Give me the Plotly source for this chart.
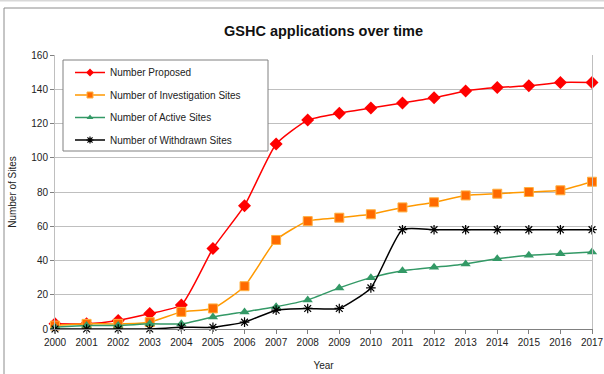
import plotly.graph_objects as go

years = list(range(2000, 2018))
proposed = [3, 3, 5, 9, 14, 47, 72, 108, 122, 126, 129, 132, 135, 139, 141, 142, 144, 144]
investigation = [2, 3, 3, 4, 10, 12, 25, 52, 63, 65, 67, 71, 74, 78, 79, 80, 81, 86]
active = [1, 2, 2, 3, 3, 7, 10, 13, 17, 24, 30, 34, 36, 38, 41, 43, 44, 45]
withdrawn = [0, 0, 0, 0, 1, 1, 4, 11, 12, 12, 24, 58, 58, 58, 58, 58, 58, 58]
y_ticks = [0, 20, 40, 60, 80, 100, 120, 140, 160]

W, H = 604, 374
L, R, T, B = 55, 12, 55, 45
PW, PH = W - L - R, H - T - B


def px_x(p):
    return (p - L) / PW


def px_y(p):
    return (H - B - p) / PH


series = [
    ("Number Proposed", proposed, "#FF0000",
     dict(symbol="diamond", size=10, color="#FF0000", line=dict(width=0))),
    ("Number of Investigation Sites", investigation, "#FF9900",
     dict(symbol="square", size=9, color="#FF6A00", line=dict(width=1, color="#FFB040"))),
    ("Number of Active Sites", active, "#339966",
     dict(symbol="triangle-up", size=9, color="#339966", line=dict(width=0))),
    ("Number of Withdrawn Sites", withdrawn, "#000000",
     dict(symbol="asterisk-open", size=8, color="#000000", line=dict(width=1.2, color="#000000"))),
]

fig = go.Figure()
for name, vals, col, mk in series:
    fig.add_trace(go.Scatter(
        x=years, y=vals, name=name, mode="lines+markers",
        line=dict(color=col, width=1.5, shape="spline", smoothing=0.5),
        marker=mk, cliponaxis=False, showlegend=False,
    ))

# legend entries with smaller symbols
for name, vals, col, mk in series:
    small = dict(mk)
    small["size"] = 6
    fig.add_trace(go.Scatter(
        x=[None], y=[None], name=name, mode="lines+markers",
        line=dict(color=col, width=1.5), marker=small,
        legendgroup=name, showlegend=True,
    ))

font = "Liberation Sans, Arial, sans-serif"

shapes = [
    # outer chart frame
    dict(type="line", xref="paper", yref="paper",
         x0=px_x(4), x1=px_x(W + 10), y0=px_y(8), y1=px_y(8),
         line=dict(color="#8C8C8C", width=1)),
    dict(type="line", xref="paper", yref="paper",
         x0=px_x(4), x1=px_x(4), y0=px_y(8), y1=px_y(H + 10),
         line=dict(color="#8C8C8C", width=1)),
    # thin band at the very top
    dict(type="line", xref="paper", yref="paper",
         x0=px_x(0), x1=px_x(W), y0=px_y(0.5), y1=px_y(0.5),
         line=dict(color="#D8D8D8", width=2)),
    # legend box
    dict(type="rect", xref="paper", yref="paper",
         x0=px_x(63), x1=px_x(268), y0=px_y(151), y1=px_y(60),
         line=dict(color="#808080", width=1), fillcolor="white", layer="above"),
]

fig.update_layout(
    width=W, height=H,
    margin=dict(l=L, r=R, t=T, b=B, autoexpand=False),
    paper_bgcolor="white", plot_bgcolor="white",
    font=dict(family=font, size=10, color="#222222"),
    title=dict(text="<b>GSHC applications over time</b>", x=(L + PW / 2) / W,
               xanchor="center", y=1 - 31 / H, yanchor="middle",
               font=dict(size=14.5, color="#111111")),
    xaxis=dict(
        range=[2000, 2017], tickvals=years, ticktext=[str(y) for y in years],
        showgrid=False, zeroline=False, automargin=False,
        showline=True, linecolor="#808080", linewidth=1,
        ticks="outside", ticklen=4, tickcolor="#808080",
        title=dict(text="Year", standoff=14, font=dict(size=10)),
        tickfont=dict(size=10),
    ),
    yaxis=dict(
        range=[0, 160], tickvals=y_ticks,
        showgrid=True, gridcolor="#BFBFBF", gridwidth=1, zeroline=False,
        automargin=False,
        showline=True, linecolor="#BFBFBF", linewidth=1, mirror=True,
        ticks="outside", ticklen=4, tickcolor="#808080",
        title=dict(text="Number of Sites", standoff=12, font=dict(size=10)),
        tickfont=dict(size=10),
    ),
    showlegend=True,
    legend=dict(
        x=px_x(70), y=px_y(58), xanchor="left", yanchor="top",
        bgcolor="rgba(0,0,0,0)", borderwidth=0,
        font=dict(size=10, color="#222222"),
        tracegroupgap=3.5, traceorder="grouped",
    ),
    shapes=shapes,
)

fig.write_html("out.html")
